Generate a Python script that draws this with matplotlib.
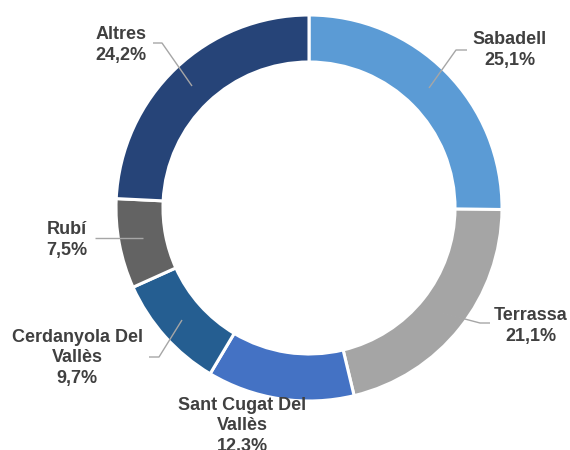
import matplotlib
matplotlib.use("Agg")
import matplotlib.pyplot as plt

# Data
categories = ["Sabadell", "Terrassa", "Sant Cugat Del\nVallès", "Cerdanyola Del\nVallès", "Rubí", "Altres"]
values = [25.1, 21.1, 12.3, 9.7, 7.5, 24.2]
value_labels = ["25,1%", "21,1%", "12,3%", "9,7%", "7,5%", "24,2%"]
colors = ["#5B9BD5", "#A5A5A5", "#4472C4", "#255E91", "#636363", "#264478"]

# Layout (image pixel coordinates, y downward)
label_pos = [(510, 50), (531, 326), (242, 426), (77, 358), (67, 240), (121, 45)]
leader_pts = [
    [(429, 88), (456, 50), (467, 50)],
    [(442, 313), (480, 323), (490, 323)],
    None,
    [(182, 320), (159, 357), (149, 357)],
    [(143, 238), (95, 238)],
    [(192, 86), (162, 43), (153, 43)],
]

W, H = 570, 450
fig = plt.figure(figsize=(W / 100, H / 100), dpi=100)
ax = fig.add_axes([0, 0, 1, 1])

R = 193
ring = 47
ax.pie(values, colors=colors, startangle=-90, counterclock=True,
       center=(309, 208), radius=R, frame=True,
       wedgeprops=dict(width=ring, edgecolor="white", linewidth=2.2))
ax.set_xlim(0, W)
ax.set_ylim(H, 0)
ax.set_aspect("auto")
ax.axis("off")

for pts in leader_pts:
    if pts is None:
        continue
    xs = [p[0] for p in pts]
    ys = [p[1] for p in pts]
    ax.plot(xs, ys, color="#A6A6A6", lw=1.0, solid_capstyle="butt")

for cat, vl, (x, y) in zip(categories, value_labels, label_pos):
    ax.text(x, y, f"{cat}\n{vl}", ha="center", va="center", multialignment="center",
            fontsize=13, fontweight="bold", color="#404040",
            family="Liberation Sans", linespacing=1.3)

fig.savefig("out.png", dpi=100)
